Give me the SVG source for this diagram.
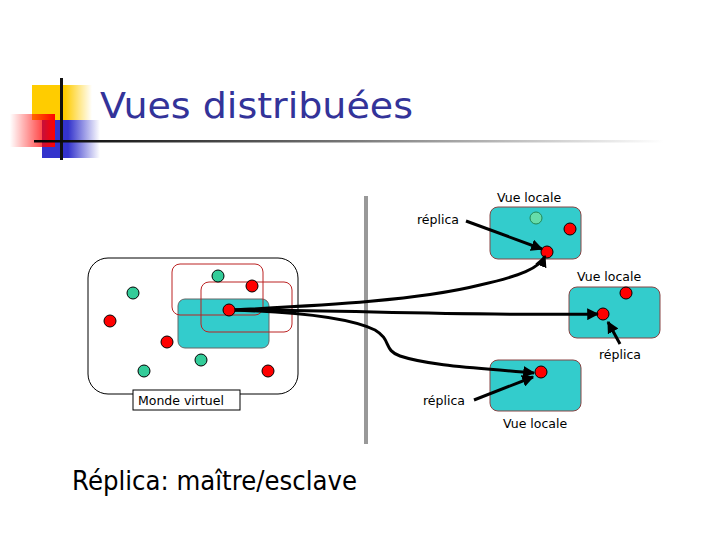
<svg xmlns="http://www.w3.org/2000/svg" width="720" height="540" viewBox="0 0 720 540">
<defs>
<linearGradient id="gy" x1="0" y1="0" x2="1" y2="0"><stop offset="0" stop-color="#FFCC00"/><stop offset="0.55" stop-color="#FFCC00"/><stop offset="1" stop-color="#FFCC00" stop-opacity="0"/></linearGradient>
<linearGradient id="gr" x1="0" y1="0" x2="1" y2="0"><stop offset="0" stop-color="#FF0000" stop-opacity="0"/><stop offset="1" stop-color="#FF0000"/></linearGradient>
<linearGradient id="gb" x1="0" y1="0" x2="1" y2="0"><stop offset="0" stop-color="#3333CC"/><stop offset="0.45" stop-color="#3333CC"/><stop offset="1" stop-color="#3333CC" stop-opacity="0"/></linearGradient>
<linearGradient id="gl" x1="0" y1="0" x2="1" y2="0"><stop offset="0" stop-color="#000"/><stop offset="0.5" stop-color="#777"/><stop offset="1" stop-color="#fff"/></linearGradient>
<marker id="ah" viewBox="0 0 10 10" refX="9" refY="5" markerWidth="4" markerHeight="4" orient="auto" markerUnits="strokeWidth"><path d="M0,0 L10,5 L0,10 z" fill="#000"/></marker>
</defs>
<style>
.lbl{font-family:"DejaVu Sans","Liberation Sans",sans-serif;font-size:12.5px;fill:#000}
.view{fill:#33CCCC;stroke:#884444;stroke-width:1}
.red{fill:#FF0000;stroke:#000;stroke-width:1}
.grn{fill:#33CC99;stroke:#000;stroke-width:1}
.zone{fill:none;stroke:#B22;stroke-width:1}
.conn{fill:none;stroke:#000;stroke-width:3;marker-end:url(#ah)}
.small{fill:none;stroke:#000;stroke-width:3;marker-end:url(#ah)}
</style>
<rect width="720" height="540" fill="#fff"/>
<g id="logo">
<rect x="32" y="85" width="60" height="35" fill="url(#gy)"/>
<rect x="42" y="120" width="58" height="38" fill="url(#gb)"/>
<rect x="10" y="114" width="45" height="33" fill="url(#gr)"/>
<rect x="60" y="78" width="3" height="82" fill="#111"/>
<rect x="34" y="140" width="630" height="2.5" fill="url(#gl)"/>
</g>
<text x="100" y="118" font-family="DejaVu Sans,Liberation Sans,sans-serif" font-size="36" fill="#333399" textLength="313" lengthAdjust="spacingAndGlyphs">Vues distribuées</text>
<rect x="364" y="196" width="4" height="248" fill="#999"/>
<g id="monde">
<rect x="88" y="258" width="210" height="136" rx="20" fill="#fff" stroke="#000" stroke-width="1"/>
<rect x="178" y="299" width="91" height="49" rx="7" fill="#33CCCC" stroke="#666"/>
<rect x="172" y="264" width="91" height="51" rx="8" class="zone"/>
<rect x="201" y="282" width="91" height="50" rx="8" class="zone"/>
<circle cx="218" cy="276" r="6" class="grn"/>
<circle cx="133" cy="293" r="6" class="grn"/>
<circle cx="201" cy="360" r="6" class="grn"/>
<circle cx="144" cy="371" r="6" class="grn"/>
<circle cx="110" cy="321" r="6" class="red"/>
<circle cx="252" cy="286" r="6" class="red"/>
<circle cx="167" cy="342" r="6" class="red"/>
<circle cx="268" cy="371" r="6" class="red"/>
<rect x="133" y="390" width="107" height="20" fill="#fff" stroke="#000"/>
<text x="138" y="405" class="lbl" font-size="13">Monde virtuel</text>
</g>
<g id="vue1">
<rect x="490" y="207" width="91" height="52" rx="8" class="view"/>
<circle cx="536" cy="218" r="6" fill="#66DDAA" stroke="#228855"/>
<circle cx="570" cy="229" r="6" class="red"/>
<circle cx="547" cy="252" r="6" class="red"/>
<text x="497" y="202" class="lbl">Vue locale</text>
<text x="417" y="224" class="lbl">réplica</text>
</g>
<g id="vue2">
<rect x="569" y="287" width="91" height="51" rx="8" class="view"/>
<circle cx="626" cy="293" r="6" class="red"/>
<circle cx="603" cy="314" r="6" class="red"/>
<text x="577" y="281" class="lbl">Vue locale</text>
<text x="599" y="359" class="lbl">réplica</text>
</g>
<g id="vue3">
<rect x="490" y="360" width="91" height="51" rx="8" class="view"/>
<circle cx="541" cy="372" r="6" class="red"/>
<text x="503" y="428" class="lbl">Vue locale</text>
<text x="423" y="405" class="lbl">réplica</text>
</g>
<g id="connectors">
<path class="conn" d="M233,310 C330,305 420,300 480,285 C520,276 540,268 545,256"/>
<path class="conn" d="M233,310 C350,310 450,316 598,314"/>
<path class="conn" d="M233,310 C300,312 350,318 375,330 C392,340 383,350 400,356 C430,366 480,368 534,373"/>
<path class="small" d="M466,221 L542,249"/>
<path class="small" d="M620,344 L608,322"/>
<path class="small" d="M474,400 L533,377"/>
</g>
<circle cx="229" cy="310" r="6" class="red"/>
<text x="72" y="490" font-family="DejaVu Sans,Liberation Sans,sans-serif" font-size="26" fill="#000" textLength="285" lengthAdjust="spacingAndGlyphs">Réplica: maître/esclave</text>
</svg>
